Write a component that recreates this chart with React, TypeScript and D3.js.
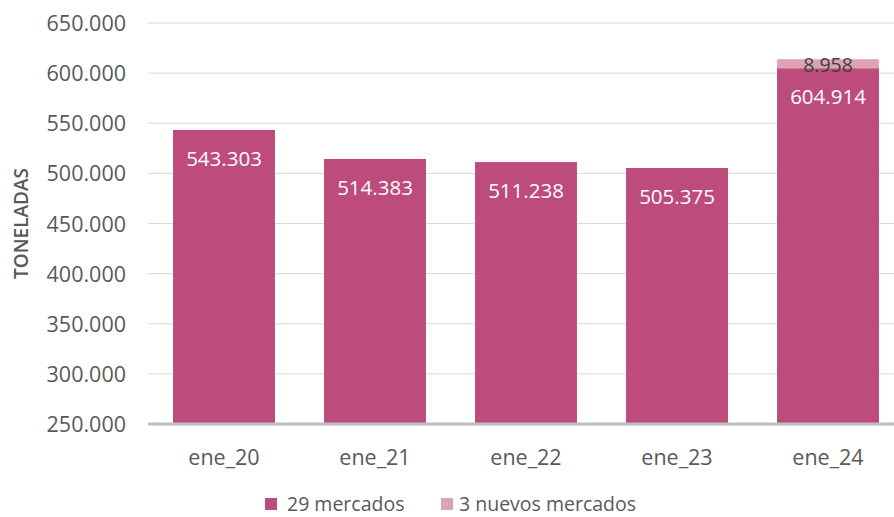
import React from 'react';
import * as d3 from 'd3';

const categories = ['ene_20', 'ene_21', 'ene_22', 'ene_23', 'ene_24'];
const baseValues = [543303, 514383, 511238, 505375, 604914];
const newValues = [0, 0, 0, 0, 8958];
const yTicks = [250000, 300000, 350000, 400000, 450000, 500000, 550000, 600000, 650000];
const seriesNames = ['29 mercados', '3 nuevos mercados'];
const seriesColors = ['#BD4B7B', '#DDA3B5'];

const fmt = (v: number) => d3.format(',')(v).replace(/,/g, '.');

export default function App() {
  const width = 894;
  const height = 517;
  const font = '"Open Sans", sans-serif';

  const x = d3.scaleBand().domain(categories).range([148.5, 903.5]).paddingInner(0.325).paddingOuter(0.1625);
  const y = d3.scaleLinear().domain([250000, 650000]).range([424, 23]);

  return (
    <svg width={width} height={height} style={{ position: 'absolute', left: 0, top: 0, overflow: 'hidden' }} fontFamily={font}>
      {yTicks.map(t => (
        <g key={t}>
          {t > 250000 && <line x1={148} x2={width} y1={y(t)} y2={y(t)} stroke="#d9d9d9" strokeWidth={1} />}
          <text x={126} y={y(t) + 8} textAnchor="end" fontSize={21.5} fill="#595959">{fmt(t)}</text>
        </g>
      ))}
      {categories.map((c, i) => {
        const x0 = x(c)!;
        const bw = x.bandwidth();
        const top = y(baseValues[i]);
        const top2 = y(baseValues[i] + newValues[i]);
        return (
          <g key={c}>
            <rect x={x0} y={top} width={bw} height={y(250000) - top} fill={seriesColors[0]} />
            {newValues[i] > 0 && <rect x={x0} y={top2} width={bw} height={top - top2} fill={seriesColors[1]} />}
            <text x={x0 + bw / 2} y={top + 36} textAnchor="middle" fontSize={20.5} fill="#ffffff">{fmt(baseValues[i])}</text>
            {newValues[i] > 0 && (
              <text x={x0 + bw / 2} y={top2 + 13} textAnchor="middle" fontSize={19.5} fill="#404040">{fmt(newValues[i])}</text>
            )}
            <text x={x0 + bw / 2} y={465} textAnchor="middle" fontSize={21.5} fill="#595959">{c}</text>
          </g>
        );
      })}
      <line x1={148} x2={width} y1={y(250000)} y2={y(250000)} stroke="#bfbfbf" strokeWidth={3} />
      <text transform={`translate(28,${y(450000)}) rotate(-90)`} textAnchor="middle" fontSize={19} fontWeight={600} fill="#595959">TONELADAS</text>
      <g>
        <rect x={265} y={498} width={12} height={12} fill={seriesColors[0]} />
        <text x={287} y={511} fontSize={19.5} fill="#595959">{seriesNames[0]}</text>
        <rect x={441} y={498} width={12} height={12} fill={seriesColors[1]} />
        <text x={459} y={511} fontSize={19.5} fill="#595959">{seriesNames[1]}</text>
      </g>
    </svg>
  );
}
